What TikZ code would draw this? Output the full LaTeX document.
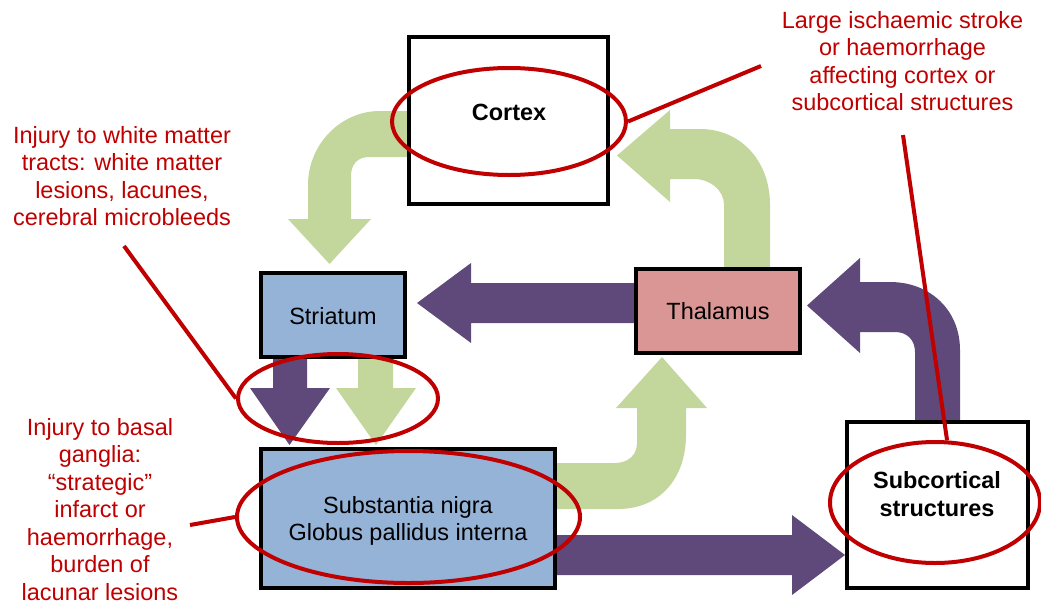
\documentclass[tikz,border=0pt]{standalone}
\usepackage{fontspec}
\setmainfont{Liberation Sans}
\usepackage{xcolor}
\usetikzlibrary{shapes.geometric}
\definecolor{plum}{RGB}{95,73,122}
\definecolor{sage}{RGB}{195,214,155}
\definecolor{paleblue}{RGB}{149,179,215}
\definecolor{rose}{RGB}{217,150,148}
\definecolor{alert}{RGB}{192,0,0}

\begin{document}
\begin{tikzpicture}[x=0.75pt,y=0.75pt,yscale=-1,xscale=1,
  box/.style={draw=black,line width=2.4pt,inner sep=0pt},
  lbl/.style={inner sep=0pt,align=center,font=\fontsize{17.6}{20.6}\selectfont},
  note/.style={lbl,text=alert},
  ring/.style={draw=alert,line width=3pt,ellipse,inner sep=0pt},
  pin/.style={draw=alert,line width=3pt}]
\useasboundingbox (0,0) rectangle (1041,603);

%Bent Arrow: cortex to striatum
\fill [sage] (412,111) -- (380,111) .. controls (340,111) and (308,145) .. (308,185) -- (308,219) -- (288,219) -- (329.5,264) -- (371,219) -- (351,219) -- (351,176) .. controls (351,165) and (357,157) .. (369,157) -- (412,157) -- cycle ;
%Bent Arrow: thalamus to cortex
\fill [sage] (724,272) -- (724,205) .. controls (724,190) and (710,179) .. (694,179) -- (670,179) -- (670,202) -- (617,155.5) -- (670,110) -- (670,129) -- (700,129) .. controls (740,129) and (770,160) .. (770,205) -- (770,272) -- cycle ;
%Bent Arrow: subcortical structures to thalamus
\fill [plum] (960,425) -- (960,350) .. controls (960,310) and (930,282) .. (890,282) -- (860,282) -- (860,258) -- (807,305.5) -- (860,353) -- (860,332) -- (895,332) .. controls (907,332) and (915,340) .. (915,352) -- (915,425) -- cycle ;
%Bent Arrow: basal ganglia to thalamus
\fill [sage] (552,463) -- (615,463) .. controls (628,463) and (637,455) .. (637,443) -- (637,408) -- (616,408) -- (662,357) -- (707,408) -- (686,408) -- (686,435) .. controls (686,478) and (660,509) .. (618,509) -- (552,509) -- cycle ;
%Left Arrow
\fill [plum] (640,283) -- (471,283) -- (471,263) -- (417,303) -- (471,343) -- (471,323) -- (640,323) -- cycle ;
%Down Arrow
\fill [plum] (273,355) -- (273,388) -- (250,388) -- (289.5,445) -- (330,388) -- (307,388) -- (307,355) -- cycle ;
%Down Arrow
\fill [sage] (358,355) -- (358,388) -- (336,388) -- (376,445) -- (416,388) -- (393,388) -- (393,355) -- cycle ;
%Right Arrow
\fill [plum] (552,535) -- (792,535) -- (792,515) -- (845,555) -- (792,595) -- (792,575) -- (552,575) -- cycle ;

%Shape: Rectangle
\node [box,fill=white,minimum width=149.25pt,minimum height=125.25pt] (ctx) at (508.5,120.5) {};
\node [box,fill=paleblue,minimum width=108pt,minimum height=63pt] (str) at (333,315) {};
\node [box,fill=rose,minimum width=123pt,minimum height=63pt] (thal) at (718,311) {};
\node [box,fill=paleblue,line width=3pt,minimum width=220.5pt,minimum height=104.25pt] (sn) at (408,518.5) {};
\node [box,fill=white,minimum width=135.75pt,minimum height=124.5pt] (sub) at (937.5,505) {};

% Text Node
\node [lbl] (ctxlbl) at (509,112) {\textbf{Cortex}};
\node [lbl] (strlbl) at (333,316) {Striatum};
\node [lbl] (thallbl) at (718,311) {Thalamus};
\node [lbl] (snlbl) at (408,521) {Substantia nigra\\Globus pallidus interna};
\node [lbl] (sublbl) at (937,494) {\textbf{Subcortical}\\\textbf{structures}};

% Text Node
\node [note,anchor=north] (stroke) at (902.5,11) {Large ischaemic stroke\\or haemorrhage\\affecting cortex or\\subcortical structures};
\node [note,anchor=north] (tracts) at (122,126) {Injury to white matter\\tracts: white matter\\lesions, lacunes,\\cerebral microbleeds};
\node [note,anchor=north] (ganglia) at (100,418) {Injury to basal\\ganglia:\\\textquotedblleft strategic\textquotedblright\\infarct or\\haemorrhage,\\burden of\\lacunar lesions};

%Shape: Ellipse
\node [ring,minimum width=175.5pt,minimum height=80.25pt] (ctxring) at (509,121.5) {};
\node [ring,minimum width=150pt,minimum height=66.75pt] (strring) at (338,398.5) {};
\node [ring,minimum width=257.25pt,minimum height=99pt] (snring) at (408.5,517) {};
\node [ring,minimum width=157.5pt,minimum height=90.75pt] (subring) at (935,502.5) {};

%Straight Lines
\coordinate (strokeend) at (761,66);
\coordinate (strokefoot) at (903,135);
\coordinate (tractsend) at (124,246);
\coordinate (gangliaend) at (190,525);
\draw [pin] (strokeend) -- (ctxring.east) ;
\draw [pin] (strokefoot) -- (subring.79) ;
\draw [pin] (tractsend) -- (strring.west) ;
\draw [pin] (gangliaend) -- (snring.west) ;

\end{tikzpicture}
\end{document}
